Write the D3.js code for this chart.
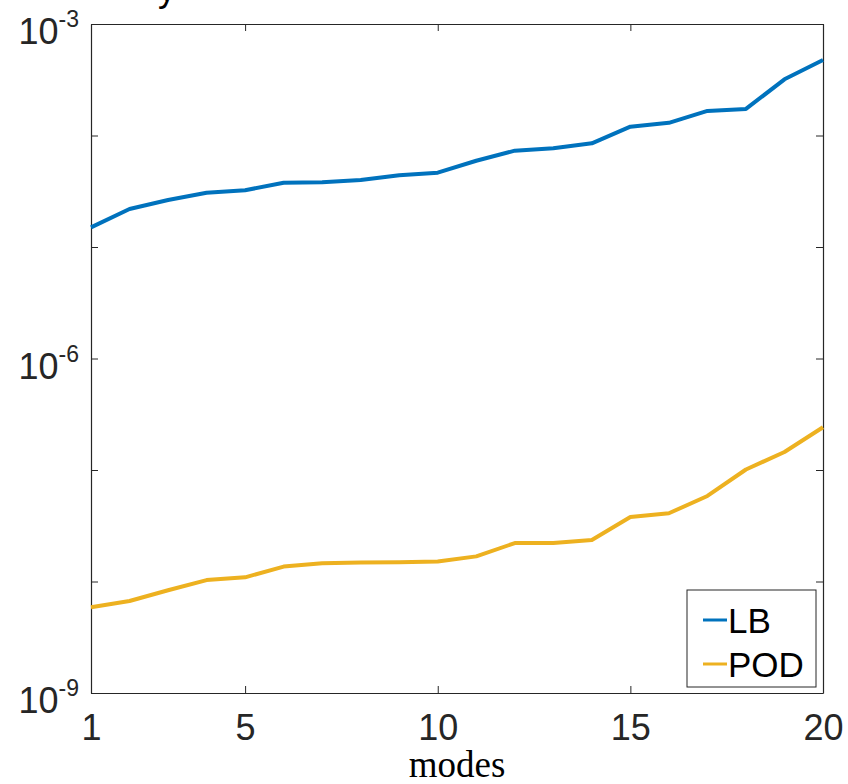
<!DOCTYPE html>
<html>
<head>
<meta charset="utf-8">
<title>modes</title>
<style>
  body { margin: 0; background: #fff; }
  text { font-family: "Liberation Sans", Arial, Helvetica, sans-serif; }
</style>
</head>
<body>
<script src="https://d3js.org/d3.v7.min.js"></script>
<script>

var modes = [1,2,3,4,5,6,7,8,9,10,11,12,13,14,15,16,17,18,19,20];
var lb  = [1.50e-5, 2.19e-5, 2.64e-5, 3.07e-5, 3.23e-5, 3.77e-5, 3.80e-5, 3.99e-5, 4.40e-5, 4.64e-5,
           5.94e-5, 7.31e-5, 7.68e-5, 8.51e-5, 1.20e-4, 1.30e-4, 1.66e-4, 1.73e-4, 3.19e-4, 4.75e-4];
var pod = [5.87e-9, 6.68e-9, 8.34e-9, 1.03e-8, 1.09e-8, 1.36e-8, 1.46e-8, 1.48e-8, 1.49e-8, 1.51e-8,
           1.68e-8, 2.21e-8, 2.21e-8, 2.36e-8, 3.79e-8, 4.09e-8, 5.85e-8, 1.01e-7, 1.45e-7, 2.42e-7];
var xTicks = [1, 5, 10, 15, 20];
var yTicks = [1e-9, 1e-8, 1e-7, 1e-6, 1e-5, 1e-4, 1e-3];
var yLabels = [[1e-3, "-3"], [1e-6, "-6"], [1e-9, "-9"]];
var seriesNames = ["LB", "POD"];
var colors = ["#0072BD", "#EDB120"];

var width = 848, height = 784;
var mLeft = 91, mRight = 823, mTop = 24, mBottom = 693;
var axisColor = "#262626";

var svg = d3.select("body").append("svg").attr("width", width).attr("height", height);

var x = d3.scaleLinear().domain([1, 20]).range([mLeft, mRight]);
var y = d3.scaleLog().domain([1e-9, 1e-3]).range([mBottom, mTop]);

// title is cut off at the top, only the tail of a "y" shows
svg.append("text").attr("x", 158).attr("y", 1).style("font-size", "36px").attr("fill", "#000").text("y");

// box axes, ticks pointing in
function styleAxis(g) {
  g.selectAll("path").attr("stroke", axisColor).attr("stroke-width", 1.2);
  g.selectAll("line").attr("stroke", axisColor).attr("stroke-width", 1);
}

var gx = svg.append("g").attr("transform", "translate(0," + mBottom + ")")
  .call(d3.axisBottom(x).tickValues(xTicks).tickSizeInner(-7).tickSizeOuter(0).tickPadding(21).tickFormat(d3.format("d")));
gx.selectAll("text").style("font-size", "36px").attr("fill", axisColor);
styleAxis(gx);

var gt = svg.append("g").attr("transform", "translate(0," + mTop + ")")
  .call(d3.axisTop(x).tickValues(xTicks).tickSizeInner(-7).tickSizeOuter(0).tickFormat(""));
styleAxis(gt);

var gy = svg.append("g").attr("transform", "translate(" + mLeft + ",0)")
  .call(d3.axisLeft(y).tickValues(yTicks).tickSizeInner(-7).tickSizeOuter(0).tickFormat(""));
styleAxis(gy);

var gr = svg.append("g").attr("transform", "translate(" + mRight + ",0)")
  .call(d3.axisRight(y).tickValues(yTicks).tickSizeInner(-7).tickSizeOuter(0).tickFormat(""));
styleAxis(gr);

// 10^n labels
yLabels.forEach(function(d) {
  var t = svg.append("text")
    .attr("x", 79).attr("y", y(d[0]) + 20)
    .attr("text-anchor", "end").attr("fill", axisColor)
    .style("font-size", "36px");
  t.append("tspan").text("10");
  t.append("tspan").attr("dy", -17).style("font-size", "23px").text(d[1]);
});

// x label
svg.append("text")
  .attr("x", (mLeft + mRight) / 2).attr("y", 777)
  .attr("text-anchor", "middle")
  .style("font-family", "'Liberation Serif', 'DejaVu Serif', serif")
  .style("font-size", "37px")
  .attr("fill", "#000")
  .text("modes");

// lines
var line = d3.line()
  .x(function(d, i) { return x(modes[i]); })
  .y(function(d) { return y(d); });

[lb, pod].forEach(function(s, i) {
  svg.append("path")
    .datum(s)
    .attr("d", line)
    .attr("fill", "none")
    .attr("stroke", colors[i])
    .attr("stroke-width", 4)
    .attr("stroke-linejoin", "round");
});

// legend
var lg = svg.append("g");
lg.append("rect")
  .attr("x", 687).attr("y", 590).attr("width", 129).attr("height", 97)
  .attr("fill", "#fff").attr("stroke", axisColor).attr("stroke-width", 1);

seriesNames.forEach(function(name, i) {
  var cy = 620 + i * 44;
  lg.append("line")
    .attr("x1", 703).attr("x2", 727).attr("y1", cy).attr("y2", cy)
    .attr("stroke", colors[i]).attr("stroke-width", 3);
  lg.append("text")
    .attr("x", 728).attr("y", cy + 13)
    .style("font-size", "35px")
    .attr("fill", "#000")
    .text(name);
});

</script>
</body>
</html>
